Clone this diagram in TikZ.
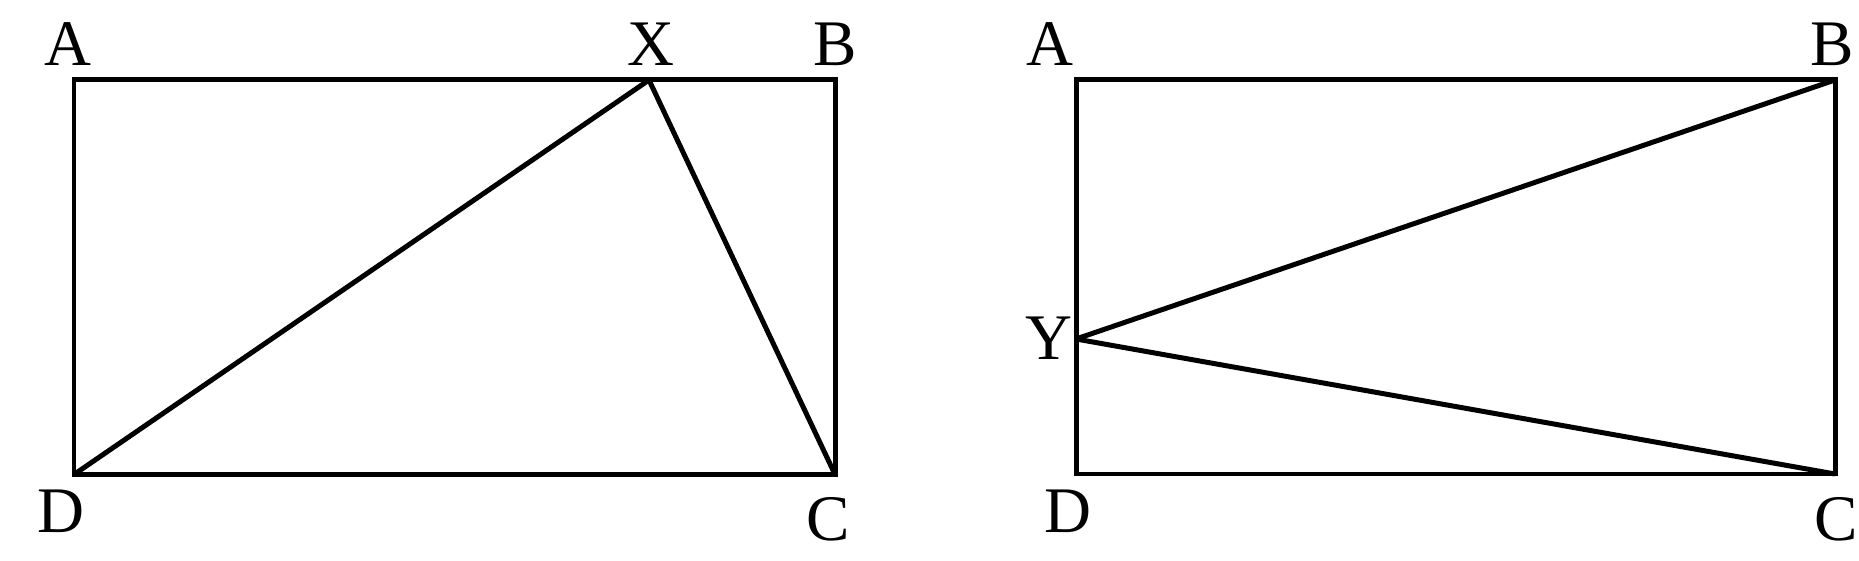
\documentclass[tikz,border=0pt]{standalone}
\usepackage{fontspec}
\setmainfont{Liberation Serif}
\usetikzlibrary{positioning}
\tikzstyle{corner}=[coordinate]
\tikzstyle{letter}=[anchor=base,inner sep=0pt,font=\fontsize{18.5}{20}\selectfont]
\tikzstyle{side}=[draw,line width=1.42pt]

\begin{document}
\begin{tikzpicture}
\useasboundingbox (0,0) rectangle (18.59,5.6);
% First we place the corners
\foreach \pos/\name in {{(0.74,4.80)/A}, {(8.35,4.80)/B}, {(8.35,0.855)/C}, {(0.74,0.855)/D}, {(6.49,4.80)/X},
  {(10.76,4.80)/A2}, {(18.35,4.80)/B2}, {(18.35,0.86)/C2}, {(10.76,0.86)/D2}, {(10.76,2.21)/Y}}
\node[corner] (\name) at \pos {};

% Then the letters
\foreach \pos/\name/\txt in {{(0.68,4.94)/A/A}, {(6.51,4.94)/X/X}, {(8.35,4.94)/B/B}, {(0.61,0.28)/D/D}, {(8.28,0.20)/C/C},
  {(10.50,4.94)/A2/A}, {(18.32,4.94)/B2/B}, {(10.68,0.28)/D2/D}, {(18.36,0.20)/C2/C}, {(10.49,2.00)/Y/Y}}
\node[letter] (l\name) at \pos {\txt};

% Rectangles
\path[side] (A) -- (B) -- (C) -- (D) -- cycle;
\path[side] (A2) -- (B2) -- (C2) -- (D2) -- cycle;

% Inner lines
\foreach \source/\dest in {D/X, X/C, Y/B2, Y/C2}
\path[side] (\source) -- (\dest);
\end{tikzpicture}
\end{document}
